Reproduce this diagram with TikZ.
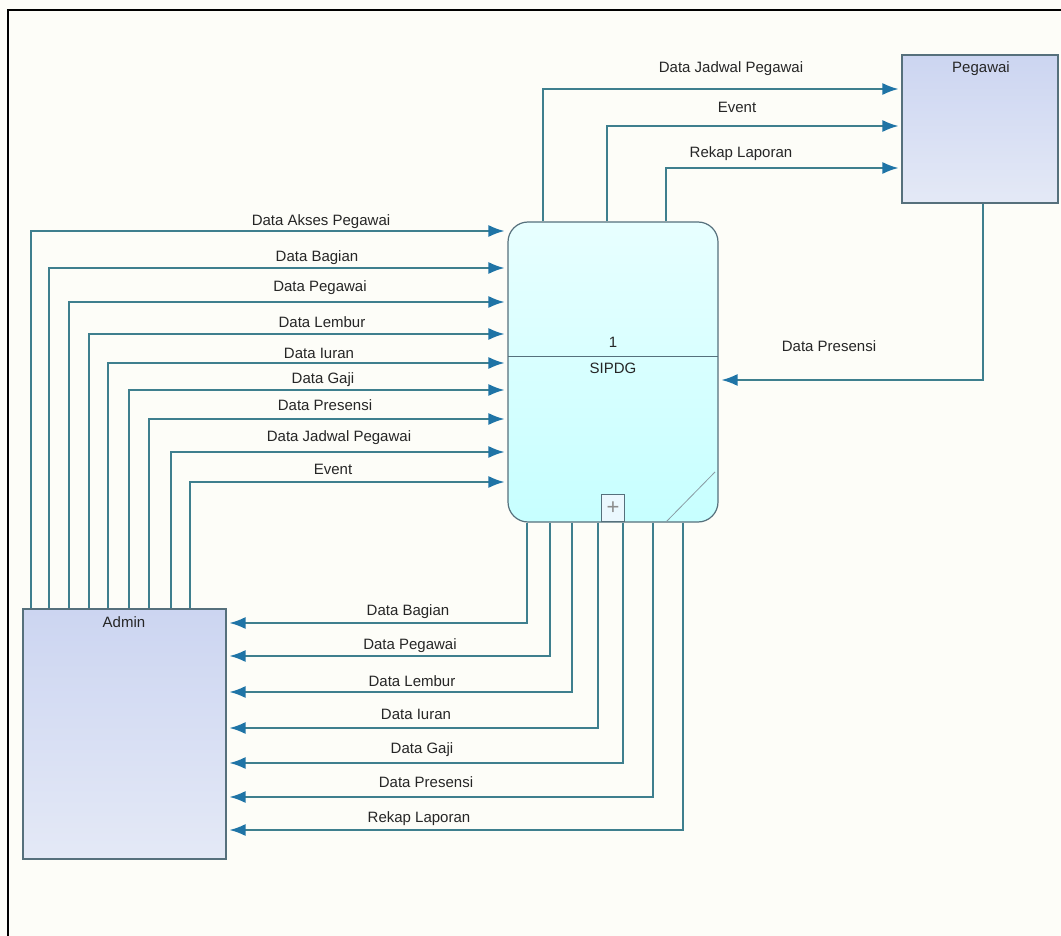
\documentclass[tikz,border=0pt]{standalone}
\usepackage{fontspec}
\setmainfont{Liberation Sans}
\usetikzlibrary{arrows.meta}
\definecolor{flowline}{HTML}{3E7F8E}
\definecolor{flowtip}{HTML}{1F74A6}
\definecolor{boxedge}{HTML}{56707C}
\definecolor{paper}{HTML}{FDFDF8}
\definecolor{enttop}{HTML}{CCD5F1}
\definecolor{entbot}{HTML}{E4E9F6}

\begin{document}
\begin{tikzpicture}[x=0.5pt, y=-0.5pt,
    font=\fontsize{7.5}{9}\selectfont,
    flow/.style={draw=flowline, line width=0.75pt, shorten >=1.5pt,
        -{Latex[length=8pt, width=6pt, color=flowtip]}},
    lbl/.style={anchor=base, inner sep=0pt, text=black!85},
    extbox/.style={draw=boxedge, line width=0.6pt, inner sep=0pt,
        top color=enttop, bottom color=entbot},
    procbox/.style={draw=boxedge, line width=0.6pt, inner sep=0pt, rounded corners=10pt,
        top color=cyan!9!white, bottom color=cyan!22!white}]

    % Paper and frame
    \fill[paper] (0,0) rectangle (1061,936);
    \useasboundingbox (0,0) rectangle (1061,936);
    \draw[line width=1pt] (8,936) -- (8,10) -- (1061,10);

    % Process SIPDG
    \node[procbox, minimum width=105pt, minimum height=150pt] (proc) at (613,372) {};
    \draw[boxedge, line width=0.5pt] (508,357) -- (718,357);
    \node[lbl] (procnum) at (613,348) {1};
    \node[lbl] (procname) at (613,374) {SIPDG};
    \draw[boxedge!70, line width=0.4pt] (715,472) -- (666,522);
    \node[draw=boxedge, line width=0.5pt, fill=cyan!8!white, inner sep=0pt,
        minimum width=11.5pt, minimum height=13.5pt, anchor=south west,
        text=black!45, font=\fontsize{11}{11}\selectfont] (expand) at (601,522) {+};

    % External entities
    \node[extbox, minimum width=101.5pt, minimum height=125pt] (admin) at (124.5,734) {};
    \node[lbl] (adminname) at (124,627) {Admin};
    \node[extbox, minimum width=78pt, minimum height=74pt] (pegawai) at (980,129) {};
    \node[lbl] (pegawainame) at (981,73) {Pegawai};

    % Admin to SIPDG
    \foreach \x/\y/\lx/\ly/\txt [count=\i] in {
        31/231/321/226/Data Akses Pegawai,
        49/268/317/262/Data Bagian,
        69/302/320/292/Data Pegawai,
        89/334/322/328/Data Lembur,
        108/363/319/358/Data Iuran,
        129/390/323/384/Data Gaji,
        149/419/325/410/Data Presensi,
        171/452/339/442/Data Jadwal Pegawai,
        190/482/333/474/Event}{
        \coordinate (in\i) at (\x,\y);
        \draw[flow] (admin.north -| in\i) |- (proc.west |- in\i);
        \node[lbl] (inlbl\i) at (\lx,\ly) {\txt};
    }

    % SIPDG to Admin
    \foreach \x/\y/\lx/\ly/\txt [count=\i] in {
        527/623/408/615/Data Bagian,
        550/656/410/649/Data Pegawai,
        572/692/412/686/Data Lembur,
        598/728/416/719/Data Iuran,
        623/763/422/753/Data Gaji,
        653/797/426/787/Data Presensi,
        683/830/419/822/Rekap Laporan}{
        \coordinate (out\i) at (\x,\y);
        \draw[flow] (proc.south -| out\i) |- (admin.east |- out\i);
        \node[lbl] (outlbl\i) at (\lx,\ly) {\txt};
    }

    % SIPDG to Pegawai
    \foreach \x/\y/\lx/\ly/\txt [count=\i] in {
        543/89/731/73/Data Jadwal Pegawai,
        607/126/737/113/Event,
        666/168/741/158/Rekap Laporan}{
        \coordinate (up\i) at (\x,\y);
        \draw[flow] (proc.north -| up\i) |- (pegawai.west |- up\i);
        \node[lbl] (uplbl\i) at (\lx,\ly) {\txt};
    }

    % Pegawai to SIPDG
    \coordinate (back) at (983,380);
    \draw[flow] (pegawai.south -| back) |- (proc.east |- back);
    \node[lbl] (backlbl) at (829,352) {Data Presensi};
\end{tikzpicture}
\end{document}
